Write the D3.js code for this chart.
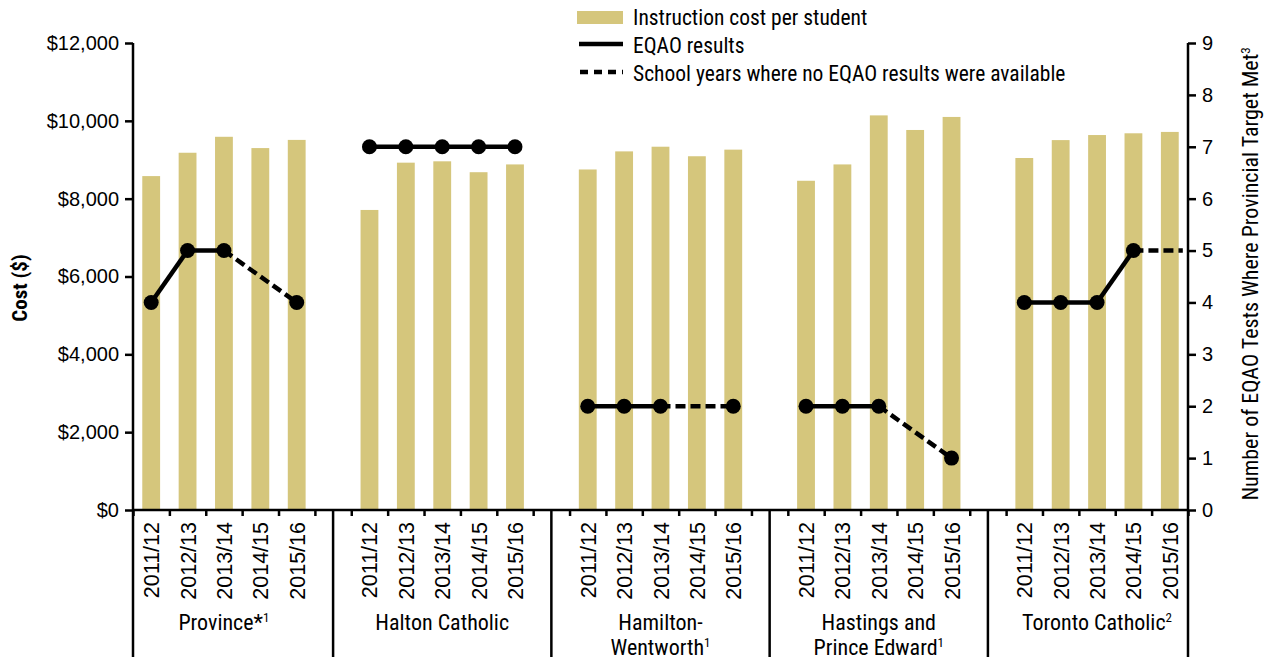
<!DOCTYPE html>
<html>
<head>
<meta charset="utf-8">
<script src="https://cdn.jsdelivr.net/npm/d3@7"></script>
<style>
  body { margin: 0; background: #fff; }
  .cond { font-family: "Liberation Sans Narrow", "Roboto Condensed", "DejaVu Sans Condensed", Roboto, sans-serif; font-stretch: condensed; }
  .tick text { font-family: "Liberation Sans", Arial, sans-serif; }
</style>
</head>
<body>
<script>
// ---- data ----
var groups = ["Province*", "Halton Catholic", "Hamilton-|Wentworth", "Hastings and|Prince Edward", "Toronto Catholic"];
var groupNotes = ["1", "", "1", "1", "2"];
var years = ["2011/12", "2012/13", "2013/14", "2014/15", "2015/16"];

var costProvince = [8580, 9180, 9590, 9300, 9510];
var costHalton   = [7710, 8925, 8960, 8680, 8880];
var costHamilton = [8750, 9215, 9335, 9090, 9260];
var costHastings = [8460, 8880, 10140, 9765, 10100];
var costToronto  = [9045, 9505, 9635, 9680, 9715];

// number of EQAO tests where provincial target met (null = no result that year)
var eqaoProvince = [4, 5, 5, null, 4];
var eqaoHalton   = [7, 7, 7, 7, 7];
var eqaoHamilton = [2, 2, 2, null, 2];
var eqaoHastings = [2, 2, 2, null, 1];
var eqaoToronto  = [4, 4, 4, 5, 5];
// whether a marker is drawn for the point
var markToronto  = [1, 1, 1, 1, 0];

var costs = [costProvince, costHalton, costHamilton, costHastings, costToronto];
var eqaos = [eqaoProvince, eqaoHalton, eqaoHamilton, eqaoHastings, eqaoToronto];
var marks = [[1,1,1,0,1], [1,1,1,1,1], [1,1,1,0,1], [1,1,1,0,1], markToronto];

var barColor = "#d5c67c";
var W = 1269, H = 662;
var mLeft = 133, mRight = 1188, mTop = 43, mBottom = 510;

var svg = d3.select("body").append("svg")
  .attr("width", W)
  .attr("height", H);

// slots: 5 bars per group + 1 blank slot between groups
var nSlots = groups.length * 6 - 1;
var x = d3.scaleLinear().domain([0, nSlots]).range([mLeft, mRight]);
var yCost = d3.scaleLinear().domain([0, 12000]).range([mBottom, mTop]);
var yEq = d3.scaleLinear().domain([0, 9]).range([mBottom, mTop]);

// flatten
var rows = [];
groups.forEach(function(g, gi){
  years.forEach(function(yr, yi){
    rows.push({g: gi, yi: yi, slot: gi * 6 + yi, year: yr,
      cost: costs[gi][yi], eq: eqaos[gi][yi], mark: marks[gi][yi]});
  });
});

//Bars
var bw = (x(1) - x(0)) * 0.49;
svg.selectAll("rect.bar")
  .data(rows)
  .enter()
  .append("rect")
  .attr("class", "bar")
  .attr("x", function(d){ return x(d.slot + 0.5) - bw / 2 })
  .attr("width", bw)
  .attr("y", function(d){ return yCost(d.cost) })
  .attr("height", function(d){ return mBottom - yCost(d.cost) })
  .attr("fill", barColor);

//Axes
var axL = svg.append("g")
  .attr("transform", "translate(" + mLeft + ",0)")
  .call(d3.axisLeft(yCost).tickValues(d3.range(0, 12001, 2000)).tickSize(8).tickPadding(6)
    .tickFormat(function(d){ return "$" + d3.format(",")(d) }));

var axR = svg.append("g")
  .attr("transform", "translate(" + mRight + ",0)")
  .call(d3.axisRight(yEq).tickValues(d3.range(0, 10)).tickSize(8).tickPadding(6));

var axB = svg.append("g")
  .attr("transform", "translate(0," + mBottom + ")")
  .call(d3.axisBottom(x).tickValues(d3.range(0, nSlots + 1)).tickSize(6).tickFormat(""));

[axL, axR, axB].forEach(function(a){
  a.select(".domain").attr("stroke", "#000").attr("stroke-width", 2.5);
  a.selectAll(".tick line").attr("stroke", "#000").attr("stroke-width", 2.5);
  a.selectAll(".tick text").attr("font-size", 20).attr("fill", "#000");
});
axL.select(".domain").attr("d", "M0," + mTop + "V" + mBottom);
axR.select(".domain").attr("d", "M0," + mTop + "V" + mBottom);
axB.select(".domain").attr("d", "M" + mLeft + ",0H" + mRight);

// year labels
svg.selectAll("text.year")
  .data(rows)
  .enter()
  .append("text")
  .attr("class", "year")
  .attr("transform", function(d){ return "translate(" + (x(d.slot + 0.5) + 8) + "," + (mBottom + 12) + ") rotate(-90)" })
  .attr("text-anchor", "end")
  .attr("font-family", "'Liberation Sans', Arial, sans-serif")
  .attr("font-size", 21.5)
  .text(function(d){ return d.year });

// group separators (long lines down to the labels)
var seps = [0].concat(d3.range(1, groups.length).map(function(i){ return i * 6 - 0.5 })).concat([nSlots]);
svg.selectAll("line.sep")
  .data(seps)
  .enter()
  .append("line")
  .attr("x1", function(d){ return x(d) })
  .attr("x2", function(d){ return x(d) })
  .attr("y1", mBottom)
  .attr("y2", 657)
  .attr("stroke", "#000")
  .attr("stroke-width", 2.5);

// group labels
groups.forEach(function(g, gi){
  var lines = g.split("|");
  var cx = x(gi * 6 + 2.5);
  var t = svg.append("text")
    .attr("class", "cond")
    .attr("text-anchor", "middle")
    .attr("font-size", 22)
    .attr("x", cx)
    .attr("y", 630);
  lines.forEach(function(l, li){
    t.append("tspan").attr("x", cx).attr("dy", li === 0 ? 0 : 25).text(l);
    if (li === lines.length - 1 && groupNotes[gi]) {
      t.append("tspan").attr("dy", -8).attr("font-size", 13).text(groupNotes[gi]);
    }
  });
});

//EQAO lines
var lineSegs = [];
groups.forEach(function(g, gi){
  var pts = rows.filter(function(d){ return d.g === gi && d.eq != null });
  for (var i = 1; i < pts.length; i++) {
    var a = pts[i - 1], b = pts[i];
    lineSegs.push({a: a, b: b, dashed: (b.yi - a.yi > 1) || !a.mark || !b.mark});
  }
});
svg.selectAll("line.eq")
  .data(lineSegs)
  .enter()
  .append("line")
  .attr("x1", function(d){ return x(d.a.slot + 0.5) })
  .attr("y1", function(d){ return yEq(d.a.eq) })
  .attr("x2", function(d){ return x(d.b.slot + 0.5) + (d.b.mark ? 0 : 13) })
  .attr("y2", function(d){ return yEq(d.b.eq) })
  .attr("stroke", "#000")
  .attr("stroke-width", 4.5)
  .attr("stroke-dasharray", function(d){ return d.dashed ? "10,5" : null });

svg.selectAll("circle.pt")
  .data(rows.filter(function(d){ return d.eq != null && d.mark }))
  .enter()
  .append("circle")
  .attr("cx", function(d){ return x(d.slot + 0.5) })
  .attr("cy", function(d){ return yEq(d.eq) })
  .attr("r", 7.5)
  .attr("fill", "#000");

// axis titles
svg.append("text")
  .attr("class", "cond")
  .attr("transform", "translate(27,288) rotate(-90)")
  .attr("text-anchor", "middle")
  .attr("font-size", 21)
  .attr("font-weight", "bold")
  .text("Cost ($)");

var rt = svg.append("text")
  .attr("class", "cond")
  .attr("transform", "translate(1258,274) rotate(-90)")
  .attr("text-anchor", "middle")
  .attr("font-size", 22)
  .text("Number of EQAO Tests Where Provincial Target Met");
rt.append("tspan").attr("dy", -8).attr("font-size", 13).text("3");

// legend
var legend = svg.append("g").attr("class", "cond");
legend.append("rect").attr("x", 577).attr("y", 11).attr("width", 46).attr("height", 13).attr("fill", barColor);
legend.append("line").attr("x1", 579).attr("x2", 623).attr("y1", 44).attr("y2", 44)
  .attr("stroke", "#000").attr("stroke-width", 4.5);
legend.append("line").attr("x1", 580).attr("x2", 623).attr("y1", 72).attr("y2", 72)
  .attr("stroke", "#000").attr("stroke-width", 4.5).attr("stroke-dasharray", "8,6");
var legTexts = ["Instruction cost per student", "EQAO results", "School years where no EQAO results were available"];
legend.selectAll("text")
  .data(legTexts)
  .enter()
  .append("text")
  .attr("x", 633)
  .attr("y", function(d, i){ return 25 + i * 28 })
  .attr("font-size", 21.5)
  .text(function(d){ return d });
</script>
</body>
</html>
